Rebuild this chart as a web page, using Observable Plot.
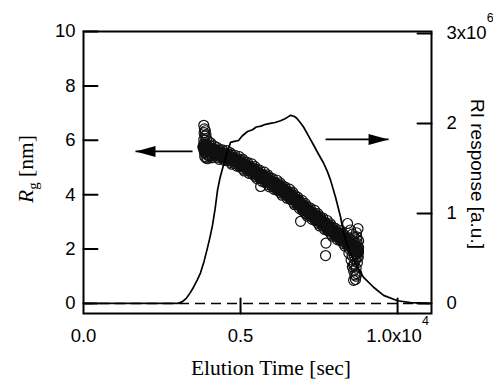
<!DOCTYPE html>
<html><head><meta charset="utf-8">
<script src="https://cdn.jsdelivr.net/npm/d3@7"></script>
<script src="https://cdn.jsdelivr.net/npm/@observablehq/plot@0.6"></script>
<style>body{margin:0;background:#fff}</style>
</head><body><div id="chart"></div>
<script>
// ---- Rg scatter (main band), elution time [s] and Rg [nm]
const rgTime = [
3820,3840,3860,3880,3900, 3920,3940,3960,3980,4000, 4020,4040,4060,4080,4100, 4120,4140,4160,4180,4200,
4220,4240,4260,4280,4300, 4320,4340,4360,4380,4400, 4420,4440,4460,4480,4500, 4520,4540,4560,4580,4600,
4620,4640,4660,4680,4700, 4720,4740,4760,4780,4800, 4820,4840,4860,4880,4900, 4920,4940,4960,4980,5000,
5020,5040,5060,5080,5100, 5120,5140,5160,5180,5200, 5220,5240,5260,5280,5300, 5320,5340,5360,5380,5400,
5420,5440,5460,5480,5500, 5520,5540,5560,5580,5600, 5620,5640,5660,5680,5700, 5720,5740,5760,5780,5800,
5820,5840,5860,5880,5900, 5920,5940,5960,5980,6000, 6020,6040,6060,6080,6100, 6120,6140,6160,6180,6200,
6220,6240,6260,6280,6300, 6320,6340,6360,6380,6400, 6420,6440,6460,6480,6500, 6520,6540,6560,6580,6600,
6620,6640,6660,6680,6700, 6720,6740,6760,6780,6800, 6820,6840,6860,6880,6900, 6920,6940,6960,6980,7000,
7020,7040,7060,7080,7100, 7120,7140,7160,7180,7200, 7220,7240,7260,7280,7300, 7320,7340,7360,7380,7400,
7420,7440,7460,7480,7500, 7520,7540,7560,7580,7600, 7620,7640,7660,7680,7700, 7720,7740,7760,7780,7800,
7820,7840,7860,7880,7900, 7920,7940,7960,7980,8000, 8020,8040,8060,8080,8100, 8120,8140,8160,8180,8200,
8220,8240,8260,8280,8300, 8320,8340,8360,8380,8400, 8420,8440,8460,8480,8500, 8520,8540,8560,8580,8600,
8620,8640,8660,8680,8700, 8720,8740
];
// scattered readings across the band
const rgValue = [
5.84,5.63,5.91,5.55,5.73, 5.49,5.83,5.65,5.74,5.53, 5.82,5.58,5.62,5.43,5.70, 5.64,5.48,5.79,5.42,5.61,
5.66,5.45,5.73,5.37,5.54, 5.30,5.65,5.47,5.57,5.36, 5.65,5.41,5.45,5.26,5.53, 5.47,5.31,5.62,5.25,5.44,
5.49,5.28,5.55,5.19,5.36, 5.12,5.46,5.28,5.37,5.16, 5.45,5.21,5.24,5.05,5.32, 5.26,5.09,5.40,5.02,5.21,
5.26,5.04,5.31,4.94,5.11, 4.87,5.21,5.02,5.11,4.90, 5.19,4.94,4.98,4.78,5.05, 4.99,4.82,5.13,4.75,4.94,
4.98,4.77,5.03,4.67,4.83, 4.59,4.92,4.74,4.82,4.61, 4.89,4.65,4.68,4.49,4.75, 4.69,4.52,4.83,4.45,4.64,
4.68,4.47,4.73,4.37,4.53, 4.29,4.62,4.44,4.52,4.31, 4.59,4.35,4.38,4.19,4.45, 4.39,4.22,4.53,4.15,4.34,
4.38,4.17,4.43,4.07,4.23, 3.98,4.32,4.13,4.22,4.00, 4.28,4.03,4.07,3.87,4.13, 4.06,3.90,4.20,3.83,4.01,
4.05,3.83,4.09,3.72,3.88, 3.63,3.96,3.77,3.85,3.63, 3.91,3.66,3.69,3.49,3.75, 3.67,3.50,3.79,3.41,3.58,
3.62,3.40,3.67,3.30,3.46, 3.21,3.55,3.36,3.45,3.23, 3.51,3.26,3.29,3.09,3.35, 3.28,3.11,3.42,3.04,3.22,
3.26,3.04,3.30,2.94,3.10, 2.85,3.18,3.00,3.08,2.86, 3.14,2.89,2.92,2.72,2.98, 2.91,2.74,3.05,2.67,2.85,
2.89,2.67,2.93,2.56,2.72, 2.47,2.80,2.62,2.70,2.48, 2.76,2.51,2.55,2.35,2.61, 2.54,2.37,2.68,2.30,2.48,
2.52,2.30,2.57,2.20,2.36, 2.11,2.45,2.26,2.35,2.13, 2.41,2.16,2.19,1.99,2.25, 2.18,2.01,2.31,1.93,2.11,
2.15,1.93,2.19,1.82,1.98, 1.73,2.06
];
// readings along the dense core of the band
const rgCore = [
5.75,5.69,5.71,5.72,5.67, 5.72,5.66,5.67,5.68,5.62, 5.67,5.61,5.62,5.63,5.57, 5.62,5.56,5.57,5.58,5.52,
5.57,5.51,5.53,5.54,5.48, 5.53,5.48,5.49,5.51,5.45, 5.50,5.44,5.45,5.46,5.40, 5.45,5.39,5.40,5.41,5.35,
5.40,5.34,5.35,5.36,5.30, 5.35,5.29,5.30,5.31,5.25, 5.30,5.24,5.24,5.25,5.19, 5.24,5.17,5.18,5.18,5.12,
5.17,5.10,5.11,5.11,5.05, 5.10,5.04,5.04,5.05,4.99, 5.04,4.97,4.98,4.98,4.92, 4.97,4.90,4.91,4.91,4.85,
4.89,4.83,4.83,4.84,4.77, 4.82,4.75,4.76,4.76,4.70, 4.74,4.68,4.68,4.69,4.62, 4.67,4.60,4.61,4.61,4.55,
4.59,4.53,4.53,4.54,4.47, 4.52,4.45,4.46,4.46,4.40, 4.44,4.38,4.38,4.39,4.32, 4.37,4.30,4.31,4.31,4.25,
4.29,4.23,4.23,4.24,4.17, 4.21,4.15,4.15,4.16,4.09, 4.13,4.06,4.07,4.07,4.00, 4.04,3.98,3.98,3.99,3.92,
3.96,3.89,3.89,3.89,3.82, 3.86,3.79,3.79,3.79,3.72, 3.76,3.69,3.69,3.69,3.62, 3.65,3.58,3.57,3.57,3.49,
3.53,3.46,3.47,3.47,3.40, 3.44,3.38,3.38,3.39,3.32, 3.36,3.29,3.29,3.29,3.22, 3.26,3.19,3.20,3.20,3.13,
3.17,3.10,3.10,3.11,3.04, 3.08,3.01,3.02,3.02,2.95, 2.99,2.92,2.92,2.92,2.85, 2.89,2.82,2.83,2.83,2.76,
2.80,2.73,2.73,2.73,2.66, 2.70,2.63,2.64,2.64,2.57, 2.61,2.54,2.55,2.55,2.48, 2.52,2.45,2.46,2.46,2.39,
2.43,2.36,2.37,2.37,2.30, 2.34,2.28,2.28,2.29,2.22, 2.26,2.19,2.19,2.19,2.12, 2.16,2.09,2.09,2.09,2.02,
2.06,1.99,1.99,1.99,1.92, 1.96,1.89
];
// ---- extra Rg points: head stack, outliers, tail spread
const extraTime = [3830,3850,3840,3870,3830,3880,3900,3860,3900,3950,3990,4050,3920,4100,3850,3810,3880,3960,4020,
  5640,6911,7707,7720,8408,8740,8690,
  8500,8560,8600,8650,8620,8680,8600,8640,8660,8600,8700,8720,8740,8760,8700,8550,8580,8450,8520,8720,8750,8680,8630,8660,8700,8760,8600,8560];
const extraRg = [6.55,6.42,6.28,6.15,6.02,6.35,6.20,5.40,5.35,5.32,5.95,5.90,6.05,5.36,5.55,5.75,5.85,5.45,5.40,
  4.30,3.02,1.76,2.22,2.94,2.75,2.60,
  2.70,2.55,2.45,1.60,1.45,1.30,1.20,1.05,0.88,0.85,1.10,1.50,1.85,2.30,2.45,1.75,1.95,1.85,1.60,2.20,1.70,1.00,1.75,2.00,2.35,2.05,1.40,1.35];
// ---- RI response (x10^6 a.u.)
const riTime = [0,1000,2000,3000,3030,3150,3280,3400,3503,3620,3726,3840,3949,4030,4108,4190,4268,4350,4427,4554,4682,4800,4936,5050,5223,5382,5500,5650,5800,5950,6100,6274,6400,6500,6592,6700,6783,6900,7006,7150,7325,7480,7643,7760,7866,8025,8185,8280,8400,8503,8620,8726,8917,9236,9554,10000,10414,11050];
const riValue = [0,0,0,0,0.005,0.02,0.06,0.12,0.18,0.26,0.34,0.47,0.62,0.74,0.87,1.05,1.26,1.40,1.50,1.65,1.79,1.80,1.81,1.86,1.91,1.93,1.96,1.97,1.99,2.00,2.01,2.03,2.05,2.07,2.09,2.08,2.06,2.01,1.96,1.87,1.76,1.66,1.56,1.47,1.37,1.18,0.96,0.78,0.65,0.56,0.47,0.40,0.29,0.18,0.09,0.03,0.01,0];
// ---- ticks
const xTicks = [0, 5000, 10000];
const xTickLabels = ["0.0", "0.5", "1.0x10"];
const leftTicks = [0, 2, 4, 6, 8, 10];
const rightTicks = [0, 1, 2, 3];
const rightTickLabels = ["0", "1", "2", "3x10"];
// ---- annotation arrows (tail time, tip time, Rg level)
const arrowTail = [3471, 7707];
const arrowTip = [1656, 9713];
const arrowLevel = [5.59, 6.03];

const xDomain = [0, 11080];
const yDomain = [-0.37, 10];
const RG_PER_RI = 3.31; // left-axis units per 1x10^6 RI

const dots = rgTime.map((t, i) => ({t, rg: rgValue[i]}))
  .concat(extraTime.map((t, i) => ({t, rg: extraRg[i]})));
const core = rgTime.map((t, i) => ({t, rg: rgCore[i]}));
const ri = riTime.map((t, i) => ({t, v: riValue[i] * RG_PER_RI}));
const arrows = arrowTail.map((a, i) => ({a, b: arrowTip[i], y: arrowLevel[i], dir: arrowTip[i] < a ? 180 : 0}));
const rightTickPos = rightTicks.map(v => v * RG_PER_RI);

const tickShape = {draw(ctx, l) { ctx.moveTo(0, 0); ctx.lineTo(0, -l); }};
const headShape = {draw(ctx) { ctx.moveTo(0, 0); ctx.lineTo(-20, -5.5); ctx.lineTo(-20, 5.5); ctx.closePath(); }};

const chart = Plot.plot({
  width: 493, height: 380,
  marginLeft: 83, marginRight: 62, marginTop: 31, marginBottom: 67,
  x: {domain: xDomain},
  y: {domain: yDomain},
  style: {background: "white", color: "black", fontFamily: "'Liberation Sans', Arial, sans-serif", fontSize: "18.5px"},
  marks: [
    Plot.ruleY([0], {stroke: "black", strokeWidth: 1.5, strokeDasharray: "10,6"}),
    Plot.dot(core, {x: "t", y: "rg", r: 5, stroke: "black", strokeWidth: 2.2, fill: "none"}),
    Plot.dot(dots, {x: "t", y: "rg", r: 5, stroke: "#111", strokeWidth: 1.2, fill: "none"}),
    Plot.line(ri, {x: "t", y: "v", stroke: "black", strokeWidth: 1.7}),
    Plot.link(arrows, {x1: "a", x2: "b", y1: "y", y2: "y", stroke: "black", strokeWidth: 1.8}),
    Plot.dot(arrows, {x: "b", y: "y", symbol: headShape, rotate: "dir", fill: "black", stroke: "none"}),
    Plot.vector(leftTicks, {x: () => xDomain[0], y: d => d, length: 14, rotate: 90, anchor: "start", shape: tickShape, stroke: "black", strokeWidth: 2}),
    Plot.vector(rightTickPos, {x: () => xDomain[1], y: d => d, length: 14, rotate: -90, anchor: "start", shape: tickShape, stroke: "black", strokeWidth: 2}),
    Plot.vector(xTicks.slice(1), {x: d => d, y: () => yDomain[0], length: 15, rotate: 0, anchor: "start", shape: tickShape, stroke: "black", strokeWidth: 2}),
    Plot.frame({stroke: "black", strokeWidth: 2}),
    Plot.axisY(leftTicks, {anchor: "left", tickSize: 0, tickPadding: 8, fontSize: 18.5, label: null}),
    Plot.axisY(rightTickPos, {anchor: "right", tickSize: 0, tickPadding: 15, fontSize: 18.5, label: null,
      tickFormat: d => rightTickLabels[rightTickPos.findIndex(v => Math.abs(v - d) < 1e-9)]}),
    Plot.axisX(xTicks, {anchor: "bottom", tickSize: 0, tickPadding: 15, fontSize: 18.5, label: null,
      tickFormat: d => xTickLabels[xTicks.indexOf(d)]})
  ]
});
document.getElementById("chart").appendChild(chart);

const svg = d3.select(chart);
svg.selectAll("text").each(function () {
  const t = d3.select(this);
  if (this.textContent === "1.0x10") t.append("tspan").attr("dy", -17).style("font-size", "12.5px").text("4");
  else if (this.textContent === "3x10") t.append("tspan").attr("dy", -17).style("font-size", "12.5px").text("6");
});
const serif = "'Liberation Serif', 'Times New Roman', serif";
svg.append("text").attr("x", 271).attr("y", 375).attr("text-anchor", "middle")
  .style("font-family", serif).style("font-size", "21.5px").text("Elution Time [sec]");
const yl = svg.append("text").attr("transform", "translate(33,169) rotate(-90)").attr("text-anchor", "middle")
  .style("font-family", serif).style("font-size", "21.5px");
yl.append("tspan").style("font-style", "italic").text("R");
yl.append("tspan").attr("dy", 5).style("font-size", "15px").text("g");
yl.append("tspan").attr("dy", -5).text(" [nm]");
svg.append("text").attr("transform", "translate(471,174) rotate(90)").attr("text-anchor", "middle")
  .style("font-family", "'Liberation Sans', Arial, sans-serif").style("font-size", "19px").text("RI response [a.u.]");
</script>
</body></html>
